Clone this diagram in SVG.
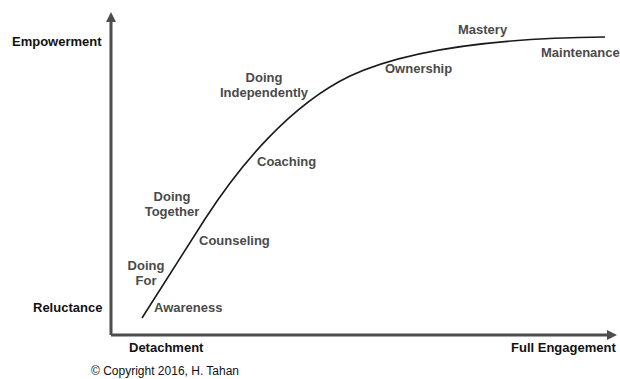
<svg xmlns="http://www.w3.org/2000/svg" width="620" height="379" viewBox="0 0 620 379">
  <style>
    .axis { stroke: #4d4d4d; stroke-width: 3; fill: none; }
    .curve { stroke: #1a1a1a; stroke-width: 1.6; fill: none; }
    .axlabel { font-family: "Liberation Sans", Arial, sans-serif; font-weight: bold; font-size: 13px; fill: #111; }
    .stage { font-family: "Liberation Sans", Arial, sans-serif; font-weight: bold; font-size: 13px; fill: #4a4a4a; }
    .note { font-family: "Liberation Sans", Arial, sans-serif; font-size: 12px; fill: #111; }
  </style>
  <defs>
    <marker id="arrow" markerUnits="userSpaceOnUse" markerWidth="11" markerHeight="11" refX="1" refY="5.5" orient="auto">
      <polygon points="0,0.5 10,5.5 0,10.5" fill="#4d4d4d"/>
    </marker>
  </defs>
  <rect width="620" height="379" fill="#fff"/>

  <g id="connectors">
    <!-- axes -->
    <path class="axis" d="M111,335 L111,21" marker-end="url(#arrow)"/>
    <path class="axis" d="M111,335 L608,335" marker-end="url(#arrow)"/>
    <!-- engagement curve -->
    <path class="curve" d="M142,318 L205,219 C240,165 290,105 350,76 C410,48 500,38 605,37"/>
  </g>

  <g id="axis-labels">
    <text class="axlabel" x="12" y="46">Empowerment</text>
    <text class="axlabel" x="33" y="312">Reluctance</text>
    <text class="axlabel" x="129" y="352">Detachment</text>
    <text class="axlabel" x="511" y="352">Full Engagement</text>
  </g>

  <g id="awareness"><text class="stage" x="154" y="312">Awareness</text></g>
  <g id="doing-for">
    <text class="stage" x="146" y="270" text-anchor="middle">Doing</text>
    <text class="stage" x="146" y="285" text-anchor="middle">For</text>
  </g>
  <g id="counseling"><text class="stage" x="199" y="245">Counseling</text></g>
  <g id="doing-together">
    <text class="stage" x="172" y="201" text-anchor="middle">Doing</text>
    <text class="stage" x="172" y="216" text-anchor="middle">Together</text>
  </g>
  <g id="coaching"><text class="stage" x="257" y="166">Coaching</text></g>
  <g id="doing-independently">
    <text class="stage" x="264" y="82" text-anchor="middle">Doing</text>
    <text class="stage" x="264" y="97" text-anchor="middle">Independently</text>
  </g>
  <g id="ownership"><text class="stage" x="385" y="73">Ownership</text></g>
  <g id="mastery"><text class="stage" x="458" y="34">Mastery</text></g>
  <g id="maintenance"><text class="stage" x="541" y="57">Maintenance</text></g>

  <text class="note" x="91" y="375">© Copyright 2016, H. Tahan</text>
</svg>
